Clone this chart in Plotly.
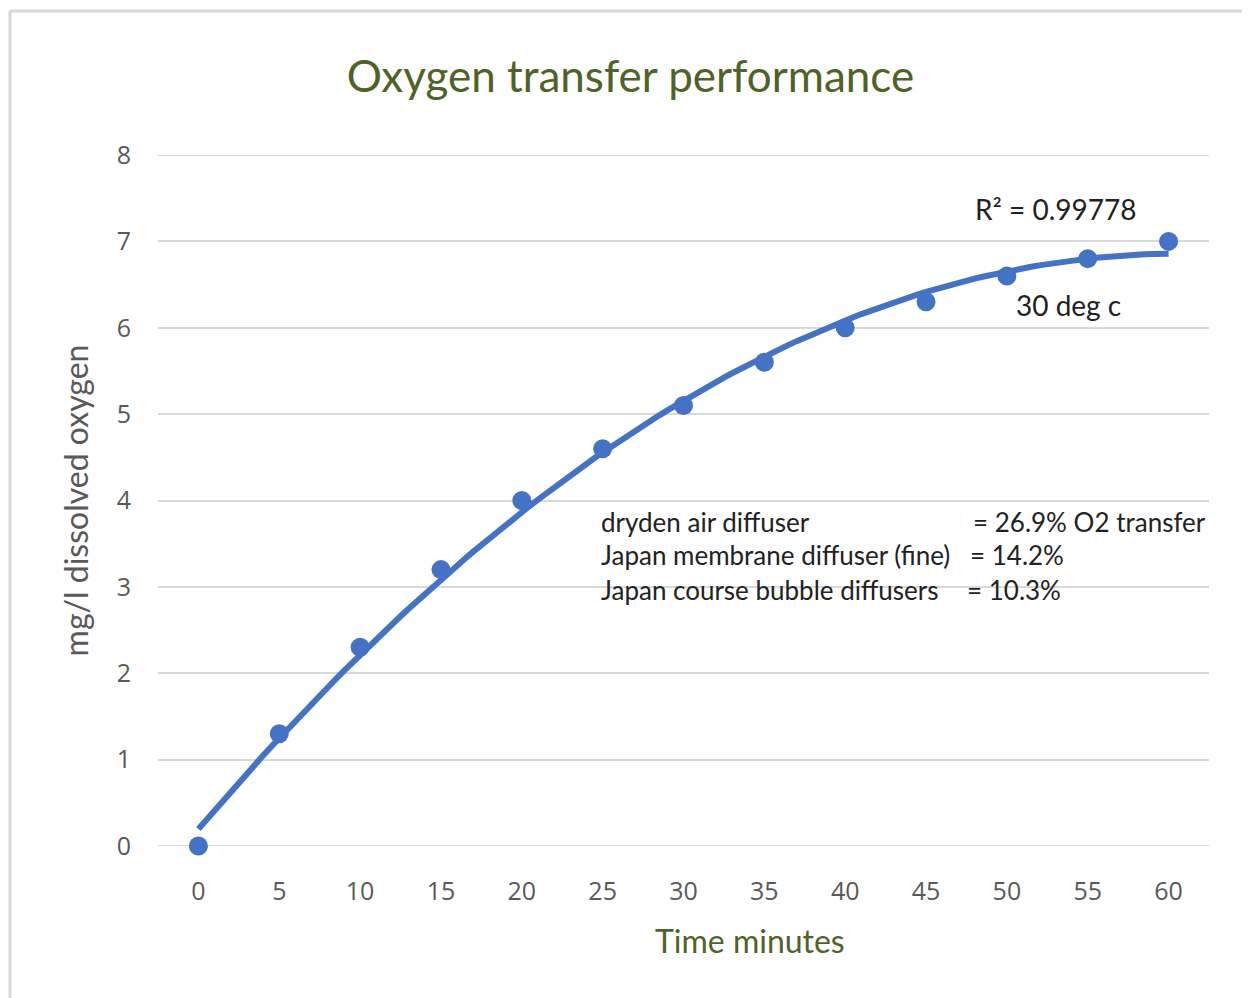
import numpy as np
import plotly.graph_objects as go

time_min = [0, 5, 10, 15, 20, 25, 30, 35, 40, 45, 50, 55, 60]
dissolved_o2 = [0, 1.3, 2.3, 3.2, 4.0, 4.6, 5.1, 5.6, 6.0, 6.3, 6.6, 6.8, 7.0]
x_ticks = [0, 5, 10, 15, 20, 25, 30, 35, 40, 45, 50, 55, 60]
y_ticks = [0, 1, 2, 3, 4, 5, 6, 7, 8]
diffuser_names = ["dryden air diffuser", "Japan membrane diffuser (fine)", "Japan course bubble diffusers"]
diffuser_values = ["= 26.9% O2 transfer", "= 14.2%", "= 10.3%"]

BLUE = "#4472C4"
GREEN = "#4F6228"
GRAY = "#595959"
GRID = "#D9D9D9"
TXT = "Lato"

# polynomial (order 2) trendline fitted to the data
coef = np.polyfit(time_min, dissolved_o2, 2)
tx = np.linspace(0, 60, 121)
ty = np.polyval(coef, tx)

fig = go.Figure()
fig.add_trace(go.Scatter(x=tx, y=ty, mode="lines", cliponaxis=False,
                         line=dict(color=BLUE, width=6), hoverinfo="skip", showlegend=False))
fig.add_trace(go.Scatter(x=time_min, y=dissolved_o2, mode="markers", cliponaxis=False,
                         marker=dict(color=BLUE, size=19), showlegend=False))

fig.update_layout(
    width=1250, height=998,
    paper_bgcolor="white", plot_bgcolor="white",
    margin=dict(l=150, r=49, t=147, b=160),
    title=dict(text="Oxygen transfer performance", x=0.498, xanchor="center",
               y=0.931, yanchor="middle",
               font=dict(family=TXT, size=44, color=GREEN)),
    xaxis=dict(range=[-2.5, 62.5], tickvals=x_ticks, ticktext=[str(v) for v in x_ticks],
               showgrid=False, zeroline=False, showline=False, ticks="", ticklabelstandoff=28,
               tickfont=dict(family="Open Sans", size=25, color=GRAY)),
    yaxis=dict(range=[0, 8], tickvals=y_ticks, showgrid=True, gridcolor=GRID, gridwidth=2,
               zeroline=False, showline=False, ticks="", ticklabelstandoff=26,
               tickfont=dict(family="Open Sans", size=25, color=GRAY),
               title=dict(text="mg/l dissolved oxygen", standoff=18,
                          font=dict(family=TXT, size=32, color=GRAY))),
)

# gridlines at the range ends (0 and 8)
for yv in (y_ticks[0], y_ticks[-1]):
    fig.add_shape(type="line", xref="paper", yref="y", x0=0, x1=1, y0=yv, y1=yv,
                  layer="below", line=dict(color=GRID, width=2))

# chart border (top and left edges visible)
fig.add_shape(type="line", xref="paper", yref="paper", x0=-0.1408, x1=1.06, y0=1.2084, y1=1.2084,
              line=dict(color=GRID, width=3))
fig.add_shape(type="line", xref="paper", yref="paper", x0=-0.1408, x1=-0.1408, y0=1.2084, y1=-0.3,
              line=dict(color=GRID, width=3))

# x axis title (offset to the right like the original)
fig.add_annotation(x=(750 - 158) / 1051, y=(846 - 940) / 691, xref="paper", yref="paper",
                   text="Time minutes", showarrow=False, xanchor="center", yanchor="middle",
                   font=dict(family=TXT, size=32, color=GREEN))

fig.add_annotation(x=53.03, y=7.38, xref="x", yref="y", text="R² = 0.99778", showarrow=False,
                   xanchor="center", yanchor="middle", font=dict(family=TXT, size=28, color="#222222"))
fig.add_annotation(x=53.84, y=6.26, xref="x", yref="y", text="30 deg c", showarrow=False,
                   xanchor="center", yanchor="middle", font=dict(family=TXT, size=28, color="#222222"))

rows_y = [3.75, 3.37, 2.96]
val_x = [47.8, 47.6, 47.4]
for name, val, yy, vx in zip(diffuser_names, diffuser_values, rows_y, val_x):
    fig.add_annotation(x=24.8, y=yy, xref="x", yref="y", text=name, showarrow=False,
                       xanchor="left", yanchor="middle", font=dict(family=TXT, size=26, color="#222222"))
    fig.add_annotation(x=vx, y=yy, xref="x", yref="y", text=val, showarrow=False,
                       xanchor="left", yanchor="middle", font=dict(family=TXT, size=26, color="#222222"))

fig.write_html("out.html")
